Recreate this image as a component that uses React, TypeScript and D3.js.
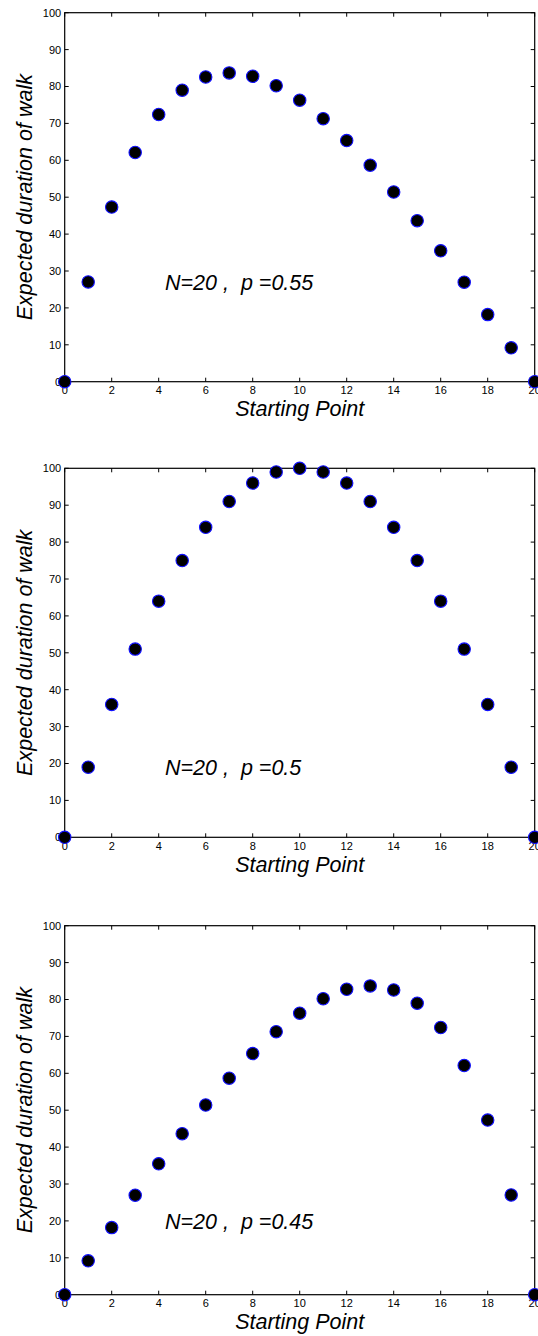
import React from "react";
import * as d3 from "d3";

const startingPoints = [0, 1, 2, 3, 4, 5, 6, 7, 8, 9, 10, 11, 12, 13, 14, 15, 16, 17, 18, 19, 20];
const durationP055 = [0, 27.03, 47.33, 62.12, 72.41, 79.0, 82.58, 83.69, 82.78, 80.21, 76.3, 71.28, 65.35, 58.68, 51.41, 43.64, 35.47, 26.96, 18.18, 9.18, 0];
const durationP050 = [0, 19, 36, 51, 64, 75, 84, 91, 96, 99, 100, 99, 96, 91, 84, 75, 64, 51, 36, 19, 0];
const durationP045 = [0, 9.18, 18.18, 26.96, 35.47, 43.64, 51.41, 58.68, 65.35, 71.28, 76.3, 80.21, 82.78, 83.69, 82.58, 79.0, 72.41, 62.12, 47.33, 27.03, 0];
const panelLabels = ["N=20 ,  p =0.55", "N=20 ,  p =0.5", "N=20 ,  p =0.45"];
const xTicks = [0, 2, 4, 6, 8, 10, 12, 14, 16, 18, 20];
const yTicks = [0, 10, 20, 30, 40, 50, 60, 70, 80, 90, 100];

const series = [durationP055, durationP050, durationP045];
const panelTops = [12.7, 468.3, 925.7];
const labelAnchorY = [24.8, 16.8, 17.7];

const W = 538;
const H = 1336;
const left = 64.7;
const right = 534.7;
const panelH = 369;
const font = "'Liberation Sans', Arial, Helvetica, sans-serif";

function Panel({ top, values, label, labelY }: { top: number; values: number[]; label: string; labelY: number }) {
  const x = d3.scaleLinear().domain([0, 20]).range([left, right]);
  const y = d3.scaleLinear().domain([0, 100]).range([top + panelH, top]);
  const tl = 4;
  return (
    <g>
      {yTicks.map((t) => (
        <g key={"y" + t}>
          <line x1={left} x2={left + tl} y1={y(t)} y2={y(t)} stroke="#000" strokeWidth={1} />
          <line x1={right} x2={right - tl} y1={y(t)} y2={y(t)} stroke="#000" strokeWidth={1} />
          <text x={left - 3.5} y={y(t)} dy="0.36em" textAnchor="end" fontSize={11} fontFamily={font} fill="#000">
            {t}
          </text>
        </g>
      ))}
      {xTicks.map((t) => (
        <g key={"x" + t}>
          <line x1={x(t)} x2={x(t)} y1={top + panelH} y2={top + panelH - tl} stroke="#000" strokeWidth={1} />
          <line x1={x(t)} x2={x(t)} y1={top} y2={top + tl} stroke="#000" strokeWidth={1} />
          <text x={x(t)} y={top + panelH + 12.7} textAnchor="middle" fontSize={11} fontFamily={font} fill="#000">
            {t}
          </text>
        </g>
      ))}
      <rect x={left} y={top} width={right - left} height={panelH} fill="none" stroke="#000" strokeWidth={1.2} />
      {values.map((v, i) => (
        <circle key={i} cx={x(startingPoints[i])} cy={y(v)} r={6.2} fill="#000" stroke="#1010ff" strokeWidth={1.1} />
      ))}
      <text
        x={x(4.27)}
        y={y(labelY)}
        fontSize={21.5}
        fontStyle="italic"
        fontFamily={font}
        fill="#000"
        style={{ whiteSpace: "pre" }}
      >
        {label}
      </text>
      <text
        x={(left + right) / 2}
        y={top + panelH + 34.7}
        textAnchor="middle"
        fontSize={21.5}
        fontStyle="italic"
        fontFamily={font}
        fill="#000"
      >
        Starting Point
      </text>
      <text
        transform={`translate(32, ${top + panelH / 2}) rotate(-90)`}
        textAnchor="middle"
        fontSize={21.5}
        fontStyle="italic"
        fontFamily={font}
        fill="#000"
      >
        Expected duration of walk
      </text>
    </g>
  );
}

export default function App() {
  return (
    <svg width={W} height={H} style={{ position: "absolute", left: 0, top: 0, background: "#fff" }}>
      <rect x={0} y={0} width={W} height={H} fill="#fff" />
      {series.map((vals, i) => (
        <Panel key={i} top={panelTops[i]} values={vals} label={panelLabels[i]} labelY={labelAnchorY[i]} />
      ))}
    </svg>
  );
}
